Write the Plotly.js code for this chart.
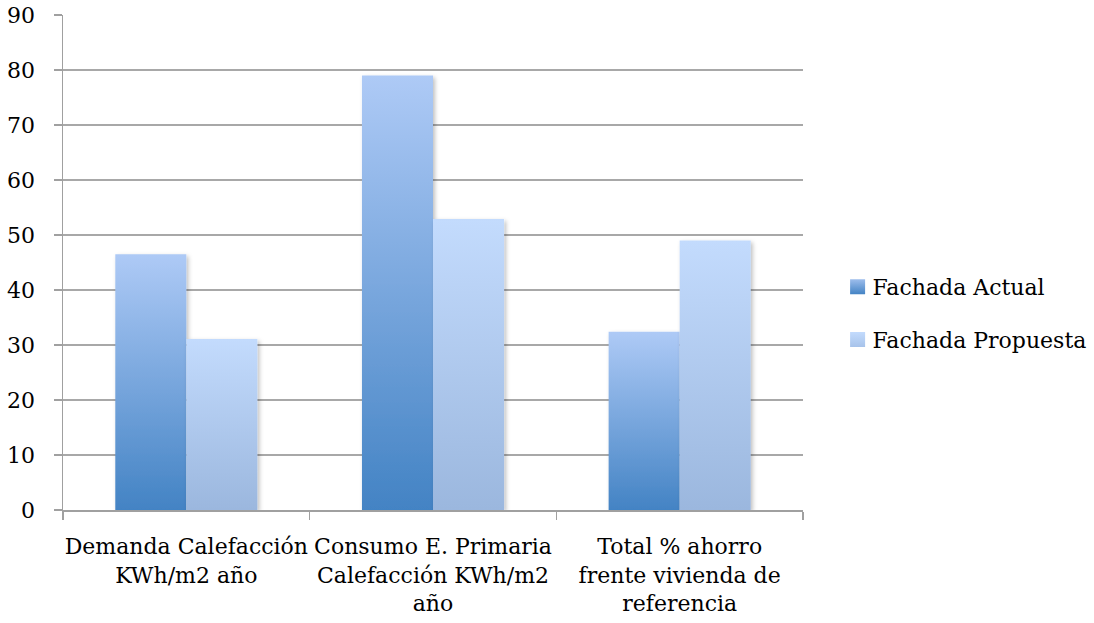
<!DOCTYPE html>
<html>
<head>
<meta charset="utf-8">
<script src="https://cdn.plot.ly/plotly-3.0.1.min.js"></script>
<style>
  html, body { margin: 0; padding: 0; background: #fff; }
  #chart { width: 1094px; height: 623px; }
</style>
</head>
<body>
<div id="chart"></div>
<script>
// Heating demand / primary energy / savings, current vs proposed facade
const categories = [
  'Demanda Calefacción<br>KWh/m2 año',
  'Consumo E. Primaria<br>Calefacción KWh/m2<br>año',
  'Total % ahorro<br>frente vivienda de<br>referencia'
];
const seriesNames = ['Fachada Actual', 'Fachada Propuesta'];
const fachadaActual = [46.5, 79.0, 32.4];
const fachadaPropuesta = [31.1, 52.9, 49.0];
const yTicks = [0, 10, 20, 30, 40, 50, 60, 70, 80, 90];

const FONT = 'DejaVu Serif, serif';
const FS = 22;

const traces = [
  {
    type: 'bar', name: seriesNames[0], x: categories, y: fachadaActual,
    marker: { color: '#6c9fd9', line: { width: 0 } },
    legendgroup: 'a', hoverinfo: 'skip'
  },
  {
    type: 'bar', name: seriesNames[1], x: categories, y: fachadaPropuesta,
    marker: { color: '#b2cdf1', line: { width: 0 } },
    legendgroup: 'b', hoverinfo: 'skip'
  }
];

const layout = {
  width: 1094, height: 623,
  margin: { l: 63, r: 291, t: 15, b: 113, pad: 0, autoexpand: false },
  paper_bgcolor: '#ffffff', plot_bgcolor: '#ffffff',
  font: { family: FONT, size: FS, color: '#000000' },
  barmode: 'group', bargap: 0.424, bargroupgap: 0,
  showlegend: true,
  legend: {
    x: 1.040, xanchor: 'left', y: 0.397, yanchor: 'middle',
    font: { family: FONT, size: FS, color: '#000000' },
    traceorder: 'grouped', tracegroupgap: 21,
    itemwidth: 30, bgcolor: 'rgba(0,0,0,0)'
  },
  xaxis: {
    type: 'category', tickson: 'boundaries', tickangle: 0,
    ticks: 'outside', ticklen: 8, tickwidth: 1.5, tickcolor: '#a0a0a0',
    showline: true, linecolor: '#a0a0a0', linewidth: 1.5,
    showgrid: false, zeroline: false, ticklabelstandoff: 16,
    tickfont: { family: FONT, size: FS, color: '#000000' },
    fixedrange: true
  },
  yaxis: {
    range: [0, 90], tickvals: yTicks, ticktext: yTicks.map(String),
    ticks: 'outside', ticklen: 8, tickwidth: 1.5, tickcolor: '#a0a0a0',
    showline: true, linecolor: '#a0a0a0', linewidth: 1.5,
    showgrid: true, gridcolor: '#a8a8a8', gridwidth: 1.5,
    zeroline: false, ticklabelstandoff: 14,
    tickfont: { family: FONT, size: FS, color: '#000000' },
    fixedrange: true
  }
};

Plotly.newPlot('chart', traces, layout, { staticPlot: true, displayModeBar: false }).then(function (gd) {
  const svgNS = 'http://www.w3.org/2000/svg';
  const svg = gd.querySelector('svg.main-svg');
  let defs = svg.querySelector('defs');
  if (!defs) { defs = document.createElementNS(svgNS, 'defs'); svg.insertBefore(defs, svg.firstChild); }

  function addGradient(id, top, bottom) {
    const g = document.createElementNS(svgNS, 'linearGradient');
    g.setAttribute('id', id);
    g.setAttribute('x1', '0'); g.setAttribute('y1', '0');
    g.setAttribute('x2', '0'); g.setAttribute('y2', '1');
    [[0, top], [1, bottom]].forEach(function (s) {
      const stop = document.createElementNS(svgNS, 'stop');
      stop.setAttribute('offset', s[0]);
      stop.setAttribute('stop-color', s[1]);
      g.appendChild(stop);
    });
    defs.appendChild(g);
  }
  addGradient('gradActual', '#aecaf6', '#4383c4');
  addGradient('gradPropuesta', '#c3dbfd', '#9bb7de');
  addGradient('swActual', '#9dbdec', '#4383c4');
  addGradient('swPropuesta', '#c3dbfd', '#a7c3ea');

  // soft drop shadow under the bars
  const f = document.createElementNS(svgNS, 'filter');
  f.setAttribute('id', 'barShadow');
  f.setAttribute('x', '-10%'); f.setAttribute('y', '-10%');
  f.setAttribute('width', '130%'); f.setAttribute('height', '130%');
  const ds = document.createElementNS(svgNS, 'feDropShadow');
  ds.setAttribute('dx', '2'); ds.setAttribute('dy', '2');
  ds.setAttribute('stdDeviation', '2');
  ds.setAttribute('flood-color', '#000'); ds.setAttribute('flood-opacity', '0.25');
  f.appendChild(ds);
  defs.appendChild(f);

  const fills = ['url(#gradActual)', 'url(#gradPropuesta)'];
  const swatches = ['url(#swActual)', 'url(#swPropuesta)'];
  gd.querySelectorAll('.barlayer .trace').forEach(function (tr, i) {
    tr.querySelectorAll('path').forEach(function (p) {
      p.style.fill = fills[i];
      p.style.fillOpacity = 1;
      p.setAttribute('filter', 'url(#barShadow)');
    });
  });
  gd.querySelectorAll('.legend .traces').forEach(function (tr, i) {
    tr.querySelectorAll('.legendpoints path').forEach(function (p) {
      p.style.fill = swatches[i % 2];
      p.style.strokeWidth = 0;
      const t = p.getAttribute('transform') || '';
      p.setAttribute('transform', t + ' translate(5,0) scale(1.25)');
    });
  });
});
</script>
</body>
</html>
